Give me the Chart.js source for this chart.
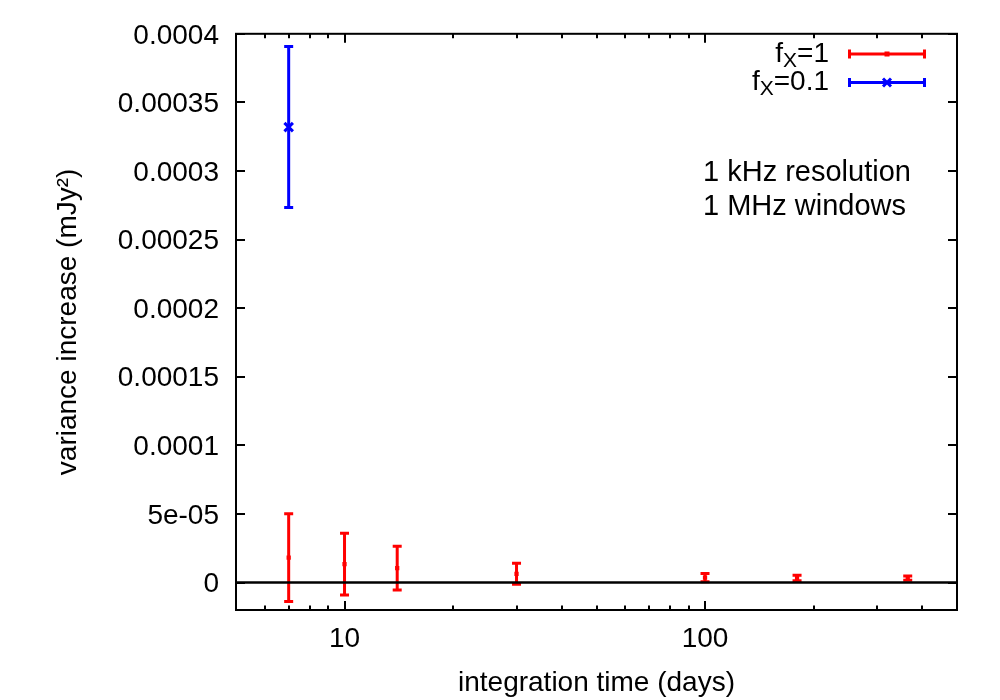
<!DOCTYPE html>
<html>
<head>
<meta charset="utf-8">
<title>variance increase</title>
<script src="https://cdn.jsdelivr.net/npm/chart.js@4.4.0/dist/chart.umd.min.js"></script>
<style>
  html, body { margin: 0; padding: 0; background: #fff; }
</style>
</head>
<body>
<canvas id="varianceChart" width="1000" height="700"></canvas>
<script>
// data
const daysFx1 = [7, 10, 14, 30, 100, 180, 365];
const varFx1 = [1.82e-5, 1.35e-5, 1.05e-5, 0.64e-5, 0.36e-5, 0.34e-5, 0.32e-5];
const errFx1 = [3.2e-5, 2.25e-5, 1.6e-5, 0.77e-5, 0.3e-5, 0.2e-5, 0.15e-5];

const daysFx01 = [7];
const varFx01 = [3.32e-4];
const errFx01 = [5.87e-5];

const yTickValues = [0, 5e-5, 1e-4, 1.5e-4, 2e-4, 2.5e-4, 3e-4, 3.5e-4, 4e-4];
const yTickLabels = ['0', '5e-05', '0.0001', '0.00015', '0.0002', '0.00025', '0.0003', '0.00035', '0.0004'];
const xTickValues = [10, 100];
const xTickLabels = ['10', '100'];
const xMinorTicks = [6, 7, 8, 9, 20, 30, 40, 50, 60, 70, 80, 90, 200, 300, 400];

const FONT = '"Liberation Sans", Arial, Helvetica, sans-serif';
const RED = '#ff0000';
const BLUE = '#0000ff';

function toPoints(xs, ys) {
    return xs.map((x, i) => ({ x: x, y: ys[i] }));
}

function drawErrorBar(ctx, px, top, bot, half) {
    ctx.beginPath();
    ctx.moveTo(px, top); ctx.lineTo(px, bot);
    ctx.moveTo(px - half, top); ctx.lineTo(px + half, top);
    ctx.moveTo(px - half, bot); ctx.lineTo(px + half, bot);
    ctx.stroke();
}

// error bars go under the markers
const errorBars = {
    id: 'errorBars',
    beforeDatasetsDraw(chart) {
        const ctx = chart.ctx;
        const x = chart.scales.x, y = chart.scales.y;
        ctx.save();
        ctx.lineWidth = 3;
        ctx.lineCap = 'butt';
        chart.data.datasets.forEach(ds => {
            ctx.strokeStyle = ds.borderColor;
            ds.data.forEach((p, i) => {
                const px = x.getPixelForValue(p.x);
                const top = y.getPixelForValue(p.y + ds.errors[i]);
                const bot = y.getPixelForValue(p.y - ds.errors[i]);
                drawErrorBar(ctx, px, top, bot, 4.5);
            });
        });
        ctx.restore();
    }
};

// gnuplot style frame, inward ticks, zero axis, legend and labels
const frameAndLabels = {
    id: 'frameAndLabels',
    afterDatasetsDraw(chart) {
        const ctx = chart.ctx;
        const a = chart.chartArea;
        const x = chart.scales.x, y = chart.scales.y;
        ctx.save();
        ctx.strokeStyle = '#000';
        ctx.lineWidth = 2;

        // zero line
        const y0 = y.getPixelForValue(0);
        ctx.lineWidth = 2.5;
        ctx.beginPath();
        ctx.moveTo(a.left, y0); ctx.lineTo(a.right, y0);
        ctx.stroke();
        ctx.lineWidth = 2;

        ctx.strokeRect(a.left, a.top, a.right - a.left, a.bottom - a.top);

        ctx.beginPath();
        yTickValues.forEach(v => {
            const py = Math.round(y.getPixelForValue(v));
            ctx.moveTo(a.left, py); ctx.lineTo(a.left + 9, py);
            ctx.moveTo(a.right, py); ctx.lineTo(a.right - 9, py);
        });
        xTickValues.forEach(v => {
            const px = Math.round(x.getPixelForValue(v));
            ctx.moveTo(px, a.bottom); ctx.lineTo(px, a.bottom - 9);
            ctx.moveTo(px, a.top); ctx.lineTo(px, a.top + 9);
        });
        xMinorTicks.forEach(v => {
            const px = Math.round(x.getPixelForValue(v));
            ctx.moveTo(px, a.bottom); ctx.lineTo(px, a.bottom - 4.5);
            ctx.moveTo(px, a.top); ctx.lineTo(px, a.top + 4.5);
        });
        ctx.stroke();
        ctx.restore();
    },
    afterDraw(chart) {
        const ctx = chart.ctx;
        ctx.save();
        ctx.fillStyle = '#000';
        ctx.textBaseline = 'alphabetic';

        // legend
        const rows = [
            { sub: 'X', rest: '=1', color: RED, base: 62, line: 54, marker: 'dot' },
            { sub: 'X', rest: '=0.1', color: BLUE, base: 90, line: 82.5, marker: 'cross' }
        ];
        rows.forEach(r => {
            ctx.font = '28px ' + FONT;
            const wf = ctx.measureText('f').width;
            const wr = ctx.measureText(r.rest).width;
            ctx.font = '21px ' + FONT;
            const ws = ctx.measureText(r.sub).width;
            let tx = 829 - wf - ws - wr;
            ctx.fillStyle = '#000';
            ctx.font = '28px ' + FONT;
            ctx.fillText('f', tx, r.base);
            tx += wf;
            ctx.font = '21px ' + FONT;
            ctx.fillText(r.sub, tx, r.base + 5);
            tx += ws;
            ctx.font = '28px ' + FONT;
            ctx.fillText(r.rest, tx, r.base);

            ctx.strokeStyle = r.color;
            ctx.lineWidth = 3;
            ctx.beginPath();
            ctx.moveTo(848, r.line); ctx.lineTo(926, r.line);
            ctx.moveTo(849.5, r.line - 4.5); ctx.lineTo(849.5, r.line + 4.5);
            ctx.moveTo(924.5, r.line - 4.5); ctx.lineTo(924.5, r.line + 4.5);
            ctx.stroke();
            if (r.marker === 'cross') {
                ctx.beginPath();
                ctx.moveTo(883, r.line - 4); ctx.lineTo(891, r.line + 4);
                ctx.moveTo(883, r.line + 4); ctx.lineTo(891, r.line - 4);
                ctx.stroke();
            } else {
                ctx.fillStyle = r.color;
                ctx.fillRect(884.5, r.line - 2.5, 5, 5);
            }
        });

        // annotation
        ctx.fillStyle = '#000';
        ctx.font = '29px ' + FONT;
        ctx.fillText('1 kHz resolution', 703, 181);
        ctx.fillText('1 MHz windows', 703, 215);
        ctx.restore();
    }
};

const ctx = document.getElementById('varianceChart').getContext('2d');
new Chart(ctx, {
    type: 'scatter',
    data: {
        datasets: [
            {
                label: 'fX=1',
                data: toPoints(daysFx1, varFx1),
                errors: errFx1,
                borderColor: RED,
                backgroundColor: RED,
                pointStyle: 'rect',
                pointRadius: 3,
                pointBorderWidth: 0
            },
            {
                label: 'fX=0.1',
                data: toPoints(daysFx01, varFx01),
                errors: errFx01,
                borderColor: BLUE,
                backgroundColor: BLUE,
                pointStyle: 'crossRot',
                pointRadius: 6,
                pointBorderWidth: 3
            }
        ]
    },
    options: {
        responsive: false,
        animation: false,
        layout: { padding: { top: 33, right: 43, left: 0, bottom: 0 } },
        plugins: {
            legend: { display: false },
            tooltip: { enabled: false }
        },
        scales: {
            x: {
                type: 'logarithmic',
                min: 5,
                max: 500,
                grid: { display: false, drawTicks: false },
                border: { display: false },
                afterBuildTicks: s => { s.ticks = xTickValues.map(v => ({ value: v })); },
                afterFit: s => { s.height = 90; },
                ticks: {
                    autoSkip: false,
                    maxRotation: 0,
                    padding: 12,
                    color: '#000',
                    font: { family: FONT, size: 28 },
                    callback: v => {
                        const i = xTickValues.indexOf(v);
                        return i >= 0 ? xTickLabels[i] : '';
                    }
                },
                title: {
                    display: true,
                    text: 'integration time (days)',
                    color: '#000',
                    font: { family: FONT, size: 28 },
                    padding: { top: 0, bottom: 0 }
                }
            },
            y: {
                type: 'linear',
                min: -2e-5,
                max: 4e-4,
                grid: { display: false, drawTicks: false },
                border: { display: false },
                afterBuildTicks: s => { s.ticks = yTickValues.map(v => ({ value: v })); },
                afterFit: s => { s.width = 236; },
                ticks: {
                    autoSkip: false,
                    padding: 17,
                    labelOffset: 2,
                    color: '#000',
                    font: { family: FONT, size: 28 },
                    callback: (v, i) => yTickLabels[i]
                },
                title: {
                    display: true,
                    text: 'variance increase (mJy²)',
                    color: '#000',
                    font: { family: FONT, size: 28 },
                    padding: { top: 51, bottom: 0 }
                }
            }
        }
    },
    plugins: [errorBars, frameAndLabels]
});
</script>
</body>
</html>
